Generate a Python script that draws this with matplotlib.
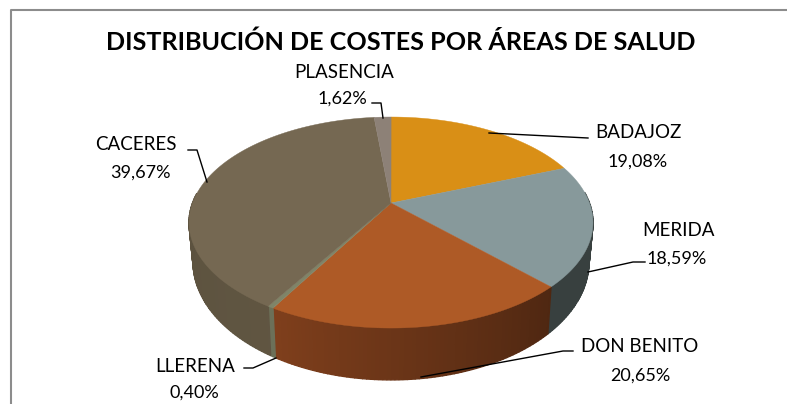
import numpy as np
import matplotlib
matplotlib.use('Agg')
import matplotlib.pyplot as plt

# Datos del gráfico
areas = ['BADAJOZ', 'MERIDA', 'DON BENITO', 'LLERENA', 'CACERES', 'PLASENCIA']
porcentajes = [19.08, 18.59, 20.65, 0.40, 39.67, 1.62]
etiquetas = ['19,08%', '18,59%', '20,65%', '0,40%', '39,67%', '1,62%']

colores_top = ['#D98F16', '#87999B', '#AE5A26', '#7F8468', '#756852', '#8D8177']
colores_lado = ['#A06A10', '#38403F', '#7F3F1C', '#6C7058', '#655A45', '#6A6058']

titulo = 'DISTRIBUCIÓN DE COSTES POR ÁREAS DE SALUD'

plt.rcParams['font.family'] = ['Lato', 'DejaVu Sans']

fig = plt.figure(figsize=(7.87, 4.04), dpi=100)
ax = fig.add_axes([0, 0, 1, 1])
ax.set_xlim(0, 787)
ax.set_ylim(404, 0)
ax.axis('off')


# Proyección en perspectiva del círculo unidad
def proyectar(ang, cy, ry, esc=1.0):
    x = np.sin(ang)
    y = np.cos(ang)
    w = 1 + 0.185 * y
    return 391 + esc * 198.5 * x / w, cy - ry * y / w


# Marco del gráfico
ax.plot([11, 11, 787], [404, 10, 10], color='#8C8C8C', lw=1.5)

limites = np.radians(np.cumsum([0] + porcentajes) * 3.6)

# Lateral con degradado
for i in range(len(areas)):
    a0, a1 = limites[i], limites[i + 1]
    n = max(2, int((a1 - a0) * 60))
    angs = np.linspace(a0, a1, n + 1)
    for j in range(n):
        t = angs[j:j + 2]
        medio = t.mean()
        if np.cos(medio) > 0.1:
            continue
        xt, yt = proyectar(t, 203, 101.9)
        xb, yb = proyectar(t, 240, 114, 0.98)
        base = np.array(matplotlib.colors.to_rgb(colores_lado[i]))
        # más oscuro hacia la derecha del frente
        if areas[i] == 'DON BENITO':
            f = 0.62 + 0.38 * ((medio - a0) / (a1 - a0))
        elif areas[i] == 'CACERES':
            f = 0.95 - 0.10 * ((medio - a0) / (a1 - a0))
        else:
            f = 1.0
        col = np.clip(base * f, 0, 1)
        ax.fill(np.r_[xt, xb[::-1]], np.r_[yt, yb[::-1]], facecolor=col, edgecolor=col, lw=1.0, zorder=2)

# Cara superior
for i in range(len(areas)):
    angs = np.linspace(limites[i], limites[i + 1], 80)
    xs, ys = proyectar(angs, 203, 101.9)
    ax.fill(np.r_[391, xs], np.r_[203, ys], color=colores_top[i], lw=0.3, zorder=3)

ax.text(401, 42, titulo, ha='center', va='center', fontsize=18.1, fontweight='bold', color='black')

# Etiquetas: nombre y porcentaje
pos_nombre = [(638, 132.5), (678, 230.5), (640, 346.5), (195, 366.5), (136, 144.5), (344, 72.5)]
pos_valor = [(638, 161.5), (677, 258.5), (640, 375.5), (194, 393), (140, 172.5), (342, 98.5)]
for i in range(len(areas)):
    ax.text(pos_nombre[i][0], pos_nombre[i][1], areas[i], ha='center', va='center', fontsize=13.5, zorder=5)
    ax.text(pos_valor[i][0], pos_valor[i][1], etiquetas[i], ha='center', va='center', fontsize=13, zorder=5)

# Líneas guía
guias = [
    ([489, 588], [133, 138]),
    ([588, 633, 645], [272, 262, 262]),
    ([421, 563, 573], [377, 351, 351]),
    ([276, 253, 244], [358, 368, 368]),
    ([207, 197, 188], [182, 150, 150]),
    ([383, 381, 372], [118, 103, 103]),
]
for xs, ys in guias:
    ax.plot(xs, ys, color='black', lw=1.0, zorder=4)

fig.savefig('out.png', dpi=100)
